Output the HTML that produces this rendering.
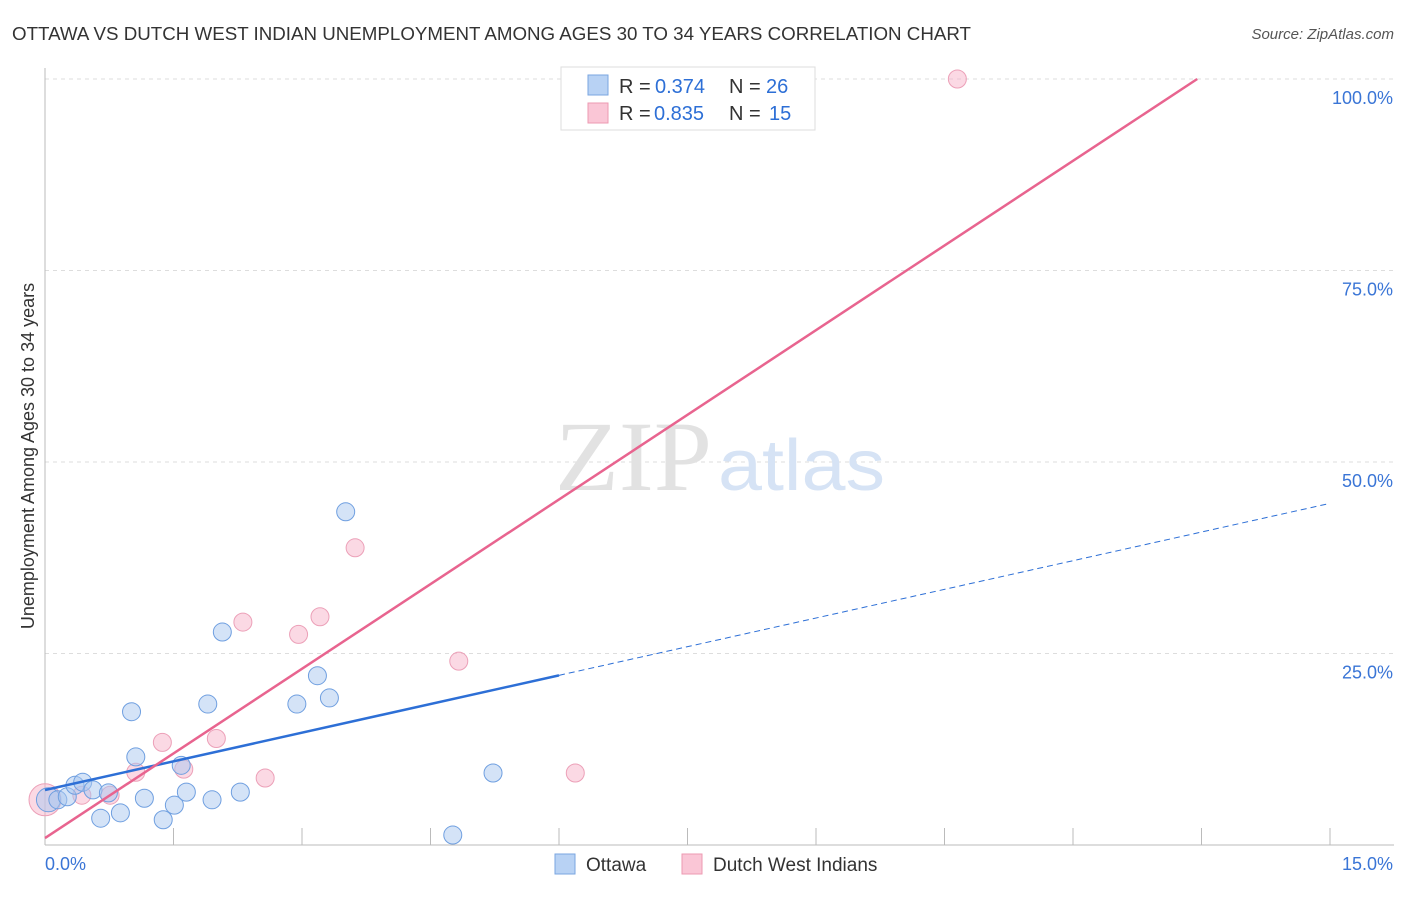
<!DOCTYPE html>
<html><head><meta charset="utf-8"><style>
body{margin:0;background:#fff;font-family:"Liberation Sans",sans-serif;}
svg text{font-family:"Liberation Sans",sans-serif;}
</style></head><body>
<svg id="chart" width="1406" height="892" xmlns="http://www.w3.org/2000/svg">
<text x="12" y="40" font-size="18" fill="#333" textLength="959" lengthAdjust="spacingAndGlyphs">OTTAWA VS DUTCH WEST INDIAN UNEMPLOYMENT AMONG AGES 30 TO 34 YEARS CORRELATION CHART</text>
<text x="1394" y="39" font-size="15" fill="#555" font-style="italic" text-anchor="end">Source: ZipAtlas.com</text>
<g id="grid"></g>
<g><text x="555" y="490" style="font-family:'Liberation Serif',serif;font-size:100px" fill="#e2e2e2" textLength="157" lengthAdjust="spacingAndGlyphs">ZIP</text><text x="718" y="490" font-size="72" fill="#d6e3f5" textLength="167" lengthAdjust="spacingAndGlyphs">atlas</text></g>
<g id="axes"></g>
<g id="marks"></g>
<text transform="translate(34,456) rotate(-90)" font-size="18" fill="#333" text-anchor="middle">Unemployment Among Ages 30 to 34 years</text>
<g>
<rect x="561" y="67" width="254" height="63" fill="#fff" stroke="#ddd"/>
<rect x="588" y="75" width="20" height="20" fill="#b8d2f4" stroke="#7aa6e0"/>
<rect x="588" y="103" width="20" height="20" fill="#fac6d6" stroke="#ec9ab2"/>
<text x="619" y="93" font-size="20" fill="#333">R =</text><text x="655" y="93" font-size="20" fill="#2d6fd6">0.374</text>
<text x="729" y="93" font-size="20" fill="#333">N =</text><text x="766" y="93" font-size="20" fill="#2d6fd6">26</text>
<text x="619" y="120" font-size="20" fill="#333">R =</text><text x="654" y="120" font-size="20" fill="#2d6fd6">0.835</text>
<text x="729" y="120" font-size="20" fill="#333">N =</text><text x="769" y="120" font-size="20" fill="#2d6fd6">15</text>
</g>
<g>
<rect x="555" y="854" width="20" height="20" fill="#b8d2f4" stroke="#7aa6e0"/>
<text x="586" y="871" font-size="19" fill="#333">Ottawa</text>
<rect x="682" y="854" width="20" height="20" fill="#fac6d6" stroke="#ec9ab2"/>
<text x="713" y="871" font-size="19" fill="#333">Dutch West Indians</text>
</g>
</svg>
<script>
const blueX=[0.04,0.15,0.26,0.35,0.44,0.56,0.65,0.74,0.88,1.01,1.06,1.16,1.38,1.51,1.59,1.65,1.90,1.95,2.07,2.28,2.94,3.18,3.32,3.51,4.76,5.23];
const blueY=[5.9,5.9,6.3,7.8,8.2,7.2,3.5,6.8,4.2,17.4,11.5,6.1,3.3,5.2,10.4,6.9,18.4,5.9,27.8,6.9,18.4,22.1,19.2,43.5,1.3,9.4];
const pinkX=[0,0.43,0.76,1.06,1.37,1.62,2.00,2.31,2.57,2.96,3.21,3.62,4.83,6.19,10.65];
const pinkY=[5.9,6.5,6.5,9.5,13.4,9.9,13.9,29.1,8.75,27.5,29.8,38.8,24.0,9.4,100];
const blueLine=[7.18,44.6];
const pinkLine=[0.9,100];
const pinkEnd=13.45;
const blueSolidEnd=6.0;
const yTicks=[25,50,75,100];
const yTickLabels=["25.0%","50.0%","75.0%","100.0%"];
const xTickLabels=["0.0%","15.0%"];
const NS="http://www.w3.org/2000/svg";
const sx=v=>45+v/15*1285, sy=v=>845-v/100*766;
function mk(p,tag,at){const e=document.createElementNS(NS,tag);for(const k in at)e.setAttribute(k,at[k]);p.appendChild(e);return e;}
const grid=document.getElementById('grid'),axes=document.getElementById('axes'),marks=document.getElementById('marks');
yTicks.forEach((t,i)=>{
 const l=mk(grid,'line',{x1:45,x2:1394,y1:sy(t),y2:sy(t),stroke:'#ddd','stroke-dasharray':'4,4'});
 
 
 const tx=mk(axes,'text',{x:1393,y:sy(t)+25,'font-size':18,fill:'#3a75d6','text-anchor':'end'});tx.textContent=yTickLabels[i];
 
 
});
mk(axes,'line',{x1:45,x2:45,y1:68,y2:845,stroke:'#bbb'});
mk(axes,'line',{x1:45,x2:1394,y1:845,y2:845,stroke:'#bbb'});
for(let i=1;i<=10;i++){const t=mk(axes,'line',{x1:sx(i*1.5),x2:sx(i*1.5),y1:828,y2:845,stroke:'#bbb'});
 
 }
const xl0=mk(axes,'text',{x:45,y:870,'font-size':18,fill:'#3a75d6'});xl0.textContent=xTickLabels[0];


const xl1=mk(axes,'text',{x:1393,y:870,'font-size':18,fill:'#3a75d6','text-anchor':'end'});xl1.textContent=xTickLabels[1];


pinkX.forEach((x,i)=>{const c=mk(marks,'circle',{cx:sx(x),cy:sy(pinkY[i]),r:i==0?16:9,fill:'rgba(248,180,202,0.5)',stroke:'#eca0b8','stroke-width':1});
 
 });
blueX.forEach((x,i)=>{const c=mk(marks,'circle',{cx:sx(x),cy:sy(blueY[i]),r:i==0?12:9,fill:'rgba(170,200,240,0.5)',stroke:'#6f9fe0','stroke-width':1});
 
 });
const by=x=>blueLine[0]+(blueLine[1]-blueLine[0])*x/15;
const b1=mk(marks,'line',{x1:sx(0),y1:sy(by(0)),x2:sx(blueSolidEnd),y2:sy(by(blueSolidEnd)),stroke:'#2d6fd6','stroke-width':2.5});


const b2=mk(marks,'line',{x1:sx(blueSolidEnd),y1:sy(by(blueSolidEnd)),x2:sx(15),y2:sy(by(15)),stroke:'#2d6fd6','stroke-width':1,'stroke-dasharray':'6,4'});


const p1=mk(marks,'line',{x1:sx(0),y1:sy(pinkLine[0]),x2:sx(pinkEnd),y2:sy(pinkLine[1]),stroke:'#e8648f','stroke-width':2.5});


</script>
</body></html>
